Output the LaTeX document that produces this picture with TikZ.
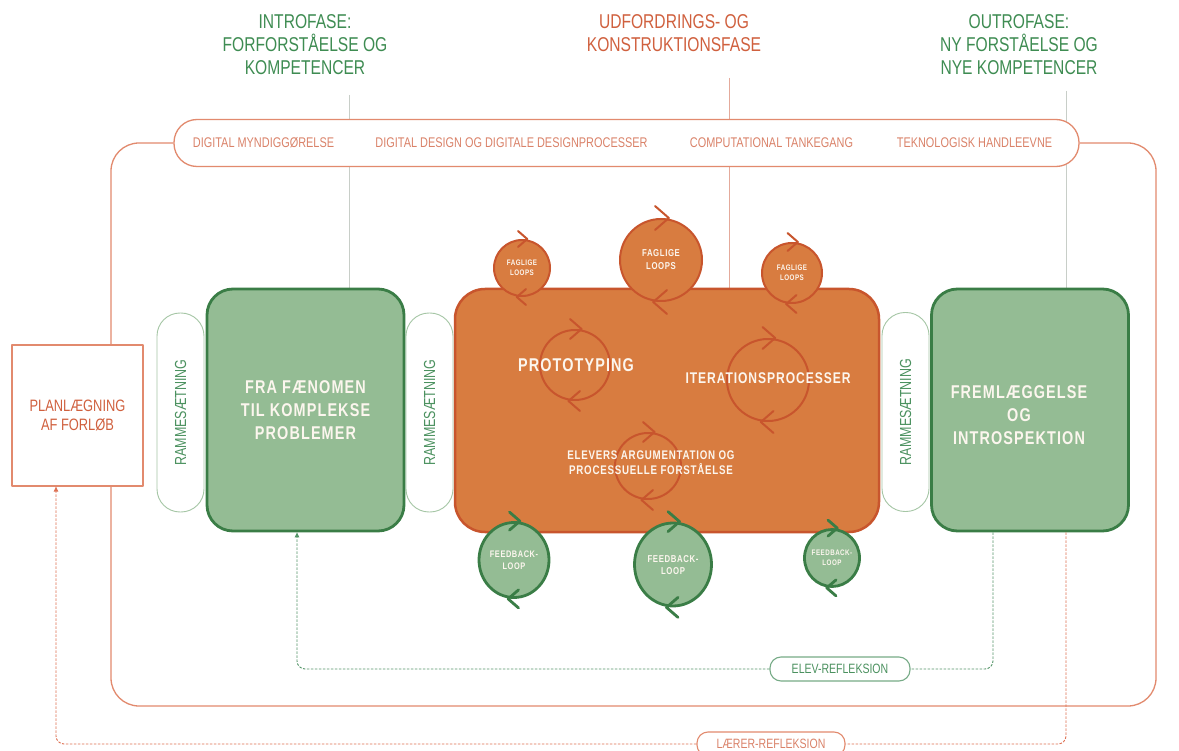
\documentclass[tikz,border=0pt]{standalone}
\usepackage{fontspec}
\setmainfont{Liberation Sans}[FakeStretch=0.78]
\newfontfamily\bft{Liberation Sans Bold}[FakeStretch=0.78,LetterSpace=6]
\usetikzlibrary{arrows.meta,shapes.geometric,calc}
\pgfdeclarelayer{background}
\pgfsetlayers{background,main}

\definecolor{tgreen}{RGB}{62,140,82}
\definecolor{torange}{RGB}{208,96,62}
\definecolor{gfill}{RGB}{148,188,148}
\definecolor{gdraw}{RGB}{58,125,70}
\definecolor{ofill}{RGB}{216,124,64}
\definecolor{odraw}{RGB}{200,85,45}
\definecolor{lorange}{RGB}{226,138,110}
\definecolor{btext}{RGB}{218,130,105}
\definecolor{pgreen}{RGB}{165,198,165}
\definecolor{rgreen}{RGB}{75,145,95}
\definecolor{vgray}{RGB}{200,206,200}
\definecolor{vpink}{RGB}{228,170,155}
\definecolor{dgreen}{RGB}{85,150,105}
\definecolor{dorange}{RGB}{222,112,82}
\definecolor{cream}{RGB}{252,246,238}

\newcommand{\loopmarks}[3]{%
  \draw[#3] ([shift={(-0.5*#2,-#2)}]#1.north) -- ([shift={(0.65*#2,0)}]#1.north) -- ([shift={(-0.5*#2,#2)}]#1.north);
  \draw[#3] ([shift={(0.5*#2,-#2)}]#1.south) -- ([shift={(-0.65*#2,0)}]#1.south) -- ([shift={(0.5*#2,#2)}]#1.south);
}

\begin{document}
\begin{tikzpicture}[x=1pt,y=-1pt,line join=round,
  title/.style={align=center, font=\fontsize{20}{23}\selectfont},
  btxt/.style={text=btext, font=\fontsize{14}{16}\selectfont},
  pill/.style={draw=pgreen, fill=white, line width=0.9pt, rounded corners=23pt, rotate=90,
    minimum width=199pt, minimum height=47pt, text=rgreen, font=\fontsize{16}{18}\selectfont},
  gbox/.style={draw=gdraw, fill=gfill, line width=2.8pt, rounded corners=26pt,
    minimum width=197pt, minimum height=242pt, text=cream, align=center,
    font=\bft\fontsize{18.5}{23}\selectfont},
  wtxt/.style={text=cream, align=center},
  iloop/.style={circle, draw=odraw, line width=2pt, inner sep=0pt},
  fl/.style={circle, draw=odraw, fill=ofill, line width=2pt, inner sep=0pt, text=cream, align=center},
  fb/.style={ellipse, draw=gdraw, fill=gfill, line width=2.8pt, inner sep=0pt},
  omark/.style={odraw, line width=2pt, line cap=round},
  gmark/.style={gdraw, line width=2.8pt, line cap=round},
  gdashed/.style={dgreen, line width=0.9pt, dash pattern=on 2.5pt off 1.5pt, rounded corners=8pt},
  odashed/.style={dorange, line width=0.9pt, dash pattern=on 2.5pt off 1.5pt, rounded corners=8pt},
  tip/.style={-{Triangle[length=5pt,width=4.5pt]}}
]
\useasboundingbox (0,0) rectangle (1179,751);

% titles
\node[title, text=tgreen] (t1) at (305,45) {INTROFASE:\\FORFORSTÅELSE OG\\KOMPETENCER};
\node[title, text=torange] (t2) at (674,33.5) {UDFORDRINGS- OG\\KONSTRUKTIONSFASE};
\node[title, text=tgreen] (t3) at (1019,45) {OUTROFASE:\\NY FORSTÅELSE OG\\NYE KOMPETENCER};

\coordinate (v1) at (349,95);
\coordinate (v2) at (729,78);
\coordinate (v3) at (1066,91);

% outer frame
\node[draw=lorange, fill=white, line width=1.3pt, rounded corners=23pt,
  minimum width=905pt, minimum height=47pt] (banner) at (626.5,143) {};
\draw[lorange, line width=1.3pt, rounded corners=28pt]
  (banner.west) -- (111,143) -- (111,706) -- (1156,706) -- (1156,143) -- (banner.east);

\node[btxt] (b1) at (263.5,143) {DIGITAL MYNDIGGØRELSE};
\node[btxt] (b2) at (511.5,143) {DIGITAL DESIGN OG DIGITALE DESIGNPROCESSER};
\node[btxt] (b3) at (771.5,143) {COMPUTATIONAL TANKEGANG};
\node[btxt] (b4) at (974.5,143) {TEKNOLOGISK HANDLEEVNE};

% planning box
\node[draw=lorange, fill=white, line width=1.3pt, minimum width=131pt, minimum height=141pt,
  text=torange, align=center, font=\fontsize{16.5}{18.5}\selectfont] (plan) at (77.5,415.5)
  {PLANLÆGNING\\AF FORLØB};

% framing pills
\node[pill] (r1) at (180.5,412.5) {RAMMESÆTNING};
\node[pill] (r2) at (429.5,412.5) {RAMMESÆTNING};
\node[pill] (r3) at (905.5,412) {RAMMESÆTNING};

% green boxes
\node[gbox] (g1) at (305.5,410) {FRA FÆNOMEN\\TIL KOMPLEKSE\\PROBLEMER};
\node[gbox] (g2) at (1030,410) {};
\node[wtxt, font=\bft\fontsize{18.5}{23}\selectfont] (g2t) at (1019,415)
  {FREMLÆGGELSE\\OG\\INTROSPEKTION};

% orange box
\node[draw=odraw, fill=ofill, line width=2.5pt, rounded corners=30pt,
  minimum width=424pt, minimum height=243pt] (ob) at (667,410.5) {};

% inner loops
\node[iloop, minimum size=70pt] (lP) at (575,365) {};
\node[iloop, minimum size=82pt] (lI) at (768,380) {};
\node[iloop, minimum size=66pt] (lE) at (648,466) {};
\loopmarks{lP}{10}{omark}
\loopmarks{lI}{11}{omark}
\loopmarks{lE}{10}{omark}

\node[wtxt, font=\bft\fontsize{18.5}{22}\selectfont] (tP) at (576,365) {PROTOTYPING};
\node[wtxt, font=\bft\fontsize{15.5}{19}\selectfont] (tI) at (768,378) {ITERATIONSPROCESSER};
\node[wtxt, font=\bft\fontsize{12.5}{15.5}\selectfont] (tE) at (651,462.5)
  {ELEVERS ARGUMENTATION OG\\PROCESSUELLE FORSTÅELSE};

% faglige loops
\node[fl, minimum size=56pt, font=\bft\fontsize{8}{10}\selectfont] (f1) at (522,268) {FAGLIGE\\LOOPS};
\node[fl, minimum size=82pt, font=\bft\fontsize{10}{13}\selectfont] (f2) at (661,260) {FAGLIGE\\LOOPS};
\node[fl, minimum size=60pt, font=\bft\fontsize{8}{10}\selectfont] (f3) at (792,273) {FAGLIGE\\LOOPS};
\loopmarks{f1}{8}{omark}
\loopmarks{f2}{12}{omark}
\loopmarks{f3}{9}{omark}

% feedback loops
\node[fb, minimum width=70pt, minimum height=75pt] (e1) at (514,560) {};
\node[fb, minimum width=77pt, minimum height=83pt] (e2) at (673,564.5) {};
\node[fb, minimum width=55pt, minimum height=57pt] (e3) at (832,558) {};
\node[wtxt, font=\bft\fontsize{9.5}{12}\selectfont] (e1t) at (514,560) {FEEDBACK-\\LOOP};
\node[wtxt, font=\bft\fontsize{10}{12.5}\selectfont] (e2t) at (673,565) {FEEDBACK-\\LOOP};
\node[wtxt, font=\bft\fontsize{8}{10}\selectfont] (e3t) at (832,558) {FEEDBACK-\\LOOP};
\loopmarks{e1}{9}{gmark}
\loopmarks{e2}{10}{gmark}
\loopmarks{e3}{8}{gmark}

% reflection loops
\node[draw=dgreen!80, fill=white, line width=1.1pt, rounded corners=11pt, minimum width=140pt,
  minimum height=24pt, text=rgreen, font=\fontsize{13.5}{15}\selectfont] (elev) at (840,669) {ELEV-REFLEKSION};
\node[draw=lorange, fill=white, line width=1.1pt, rounded corners=11pt, minimum width=148pt,
  minimum height=24pt, text=btext, font=\fontsize{13.5}{15}\selectfont] (laer) at (771,744) {LÆRER-REFLEKSION};

\draw[gdashed] ([xshift=-37pt]g2.south) |- (elev.east);
\draw[gdashed, tip] (elev.west) -| ([xshift=-8.5pt]g1.south);
\draw[odashed] ([xshift=36pt]g2.south) |- (laer.east);
\draw[odashed, tip] (laer.west) -| ([xshift=-21.5pt]plan.south);

\begin{pgfonlayer}{background}
\fill[white] (0,0) rectangle (1179,751);
\draw[vgray, line width=1pt] (v1) -- (v1 |- g1.north);
\draw[vpink, line width=1pt] (v2) -- (v2 |- ob.north);
\draw[vgray, line width=1pt] (v3) -- (v3 |- g2.north);
\end{pgfonlayer}
\end{tikzpicture}
\end{document}
